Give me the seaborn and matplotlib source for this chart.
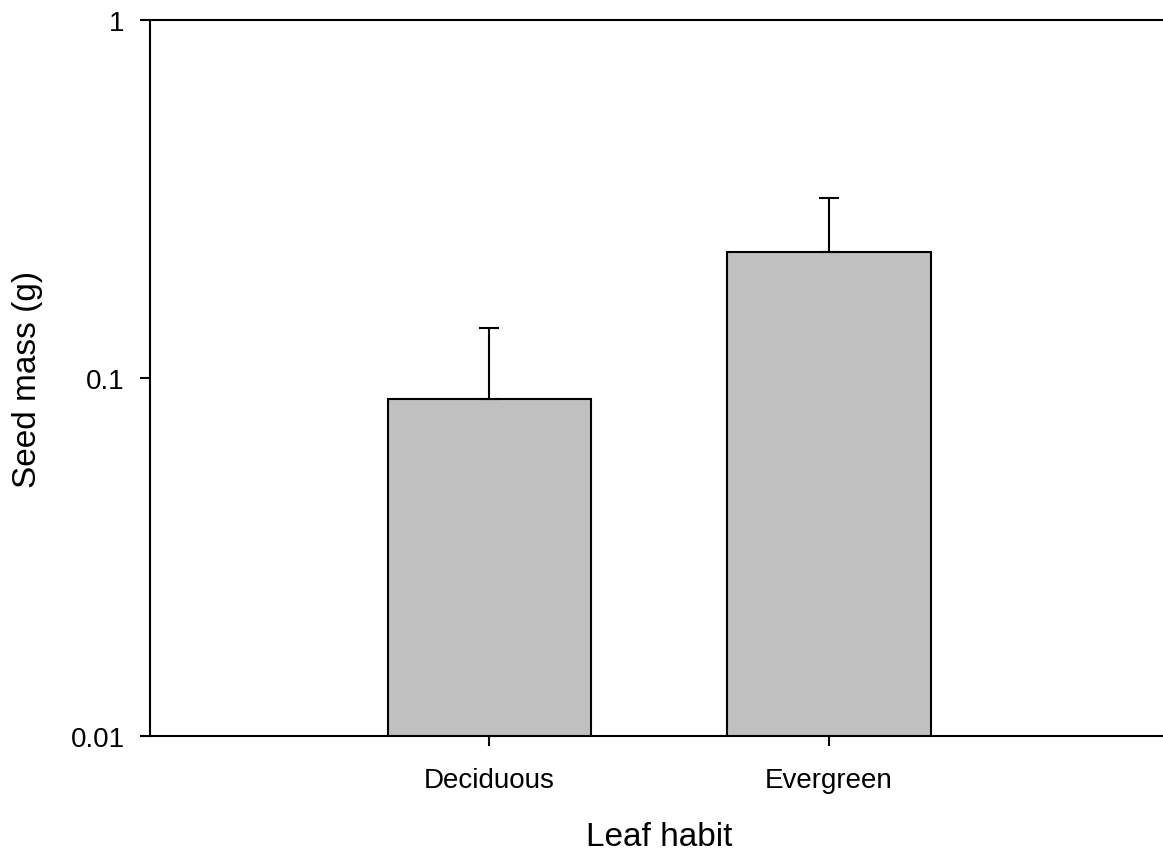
import pandas as pd
import numpy as np
import matplotlib
matplotlib.use('Agg')
import matplotlib.pyplot as plt
import seaborn as sns

# 数据
habit = ['Deciduous', 'Evergreen']
seed_mass = [0.0875, 0.225]
seed_err = [0.050, 0.094]   # 上误差

sns.set_style('white', {'text.color': 'black', 'axes.labelcolor': 'black',
                        'xtick.color': 'black', 'ytick.color': 'black'})
plt.rcParams['font.family'] = ['Liberation Sans', 'DejaVu Sans']

df = pd.DataFrame({'habit': habit, 'mass': seed_mass, 'err': seed_err})

fig = plt.figure(figsize=(11.63, 8.53), dpi=100)
ax = fig.add_axes([150 / 1163, 116 / 853, 1013 / 1163, 716 / 853])

sns.barplot(data=df, x='habit', y='mass', color='#c0c0c0', edgecolor='black',
            linewidth=1.5, width=0.6, saturation=1, errorbar=None, ax=ax)
ax.errorbar(np.arange(len(habit)), df['mass'], yerr=[np.zeros(len(habit)), df['err']],
            fmt='none', ecolor='black', elinewidth=1.5, capsize=7.2, capthick=1.5)

ax.set_yscale('log')
ax.set_ylim(0.01, 1)
ax.set_xlim(-1, 1.984)
ax.set_yticks([0.01, 0.1, 1])
ax.set_yticklabels(['0.01', '0.1', '1'])
ax.yaxis.set_minor_locator(matplotlib.ticker.NullLocator())

ax.tick_params(axis='both', direction='out', length=7.2, width=1.5, labelsize=20,
               left=True, bottom=True, pad=11)
ax.tick_params(axis='x', pad=15)

for s in ['left', 'bottom', 'top']:
    ax.spines[s].set_linewidth(1.5)
    ax.spines[s].set_color('black')
ax.spines['right'].set_visible(False)

ax.set_xlabel('Leaf habit', fontsize=24)
ax.set_ylabel('Seed mass (g)', fontsize=24)
ax.xaxis.set_label_coords(0.503, -0.119)
ax.yaxis.set_label_coords(-0.1056, 0.5)

fig.savefig('out.png', dpi=100)
